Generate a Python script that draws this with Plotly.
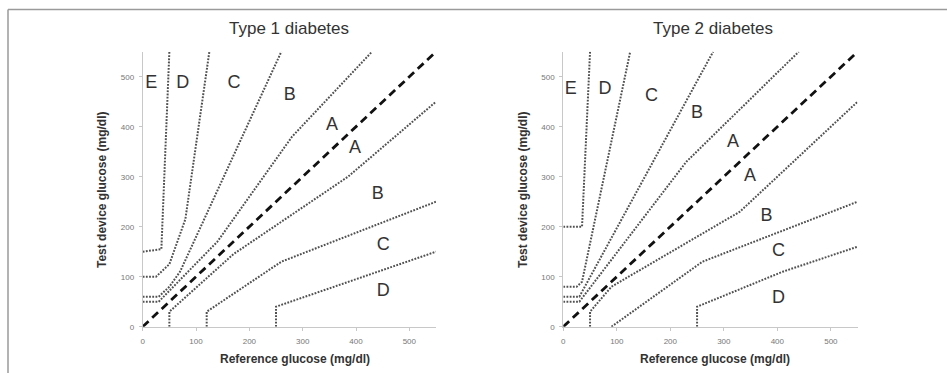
import plotly.graph_objects as go

W, H = 947, 373

# Parkes consensus error grid boundaries (reference glucose x, test device glucose y), mg/dl
type1_lines = {
    "A_upper": ([0, 30, 140, 280, 430], [50, 50, 170, 380, 550]),
    "A_lower": ([50, 50, 170, 385, 550], [0, 30, 145, 300, 450]),
    "B_upper": ([0, 30, 50, 70, 260], [60, 60, 80, 110, 550]),
    "B_lower": ([120, 120, 260, 550], [0, 30, 130, 250]),
    "C_upper": ([0, 25, 50, 80, 125], [100, 100, 125, 215, 550]),
    "C_lower": ([250, 250, 550], [0, 40, 150]),
    "D_upper": ([0, 35, 50], [150, 155, 550]),
}
type2_lines = {
    "A_upper": ([0, 30, 230, 440], [50, 50, 330, 550]),
    "A_lower": ([50, 50, 90, 330, 550], [0, 30, 80, 230, 450]),
    "B_upper": ([0, 30, 280], [60, 60, 550]),
    "B_lower": ([90, 260, 550], [0, 130, 250]),
    "C_upper": ([0, 25, 35, 125], [80, 80, 90, 550]),
    "C_lower": ([250, 250, 410, 550], [0, 40, 110, 160]),
    "D_upper": ([0, 35, 50], [200, 200, 550]),
}
identity = ([0, 550], [0, 550])

zone_text = ["E", "D", "C", "B", "A", "A", "B", "C", "D"]
type1_label_x = [16, 75, 171, 276, 355, 398, 441, 451, 451]
type1_label_y = [487, 487, 487, 462, 403, 357, 265, 163, 70]
type2_label_x = [14, 78, 165, 250, 317, 349, 380, 402, 402]
type2_label_y = [475, 475, 461, 427, 368, 301, 220, 150, 57]

titles = ["Type 1 diabetes", "Type 2 diabetes"]
x_title = "Reference glucose (mg/dl)"
y_title = "Test device glucose (mg/dl)"
tick_vals = [0, 100, 200, 300, 400, 500]
axis_max = 550

# plot-area geometry in pixels
panels = [
    dict(x0=142.7, x1=436.0, xa="x", ya="y"),
    dict(x0=563.3, x1=857.6, xa="x2", ya="y2"),
]
y_bottom_px, y_top_px = 326.7, 51.7


def px_x(p):
    return p / W


def px_y(p):
    return (H - p) / H


fig = go.Figure()
font_family = "Liberation Sans, Arial, sans-serif"

for panel, lines, lx, ly in [
    (panels[0], type1_lines, type1_label_x, type1_label_y),
    (panels[1], type2_lines, type2_label_x, type2_label_y),
]:
    for name, (xs, ys) in lines.items():
        fig.add_trace(go.Scatter(
            x=xs, y=ys, mode="lines", name=name,
            line=dict(color="#505050", width=2.0, dash="1.8px,1.4px"),
            xaxis=panel["xa"], yaxis=panel["ya"], showlegend=False,
            hoverinfo="skip", cliponaxis=False,
        ))
    fig.add_trace(go.Scatter(
        x=identity[0], y=identity[1], mode="lines",
        line=dict(color="#111111", width=2.8, dash="8px,5px"),
        xaxis=panel["xa"], yaxis=panel["ya"], showlegend=False,
        hoverinfo="skip", cliponaxis=False,
    ))
    fig.add_trace(go.Scatter(
        x=lx, y=ly, mode="text", text=zone_text,
        textfont=dict(family=font_family, size=18, color="#333333"),
        xaxis=panel["xa"], yaxis=panel["ya"], showlegend=False,
        hoverinfo="skip",
    ))

axis_common = dict(
    range=[0, axis_max], showgrid=False, zeroline=False,
    showline=True, linecolor="#c8c8c8", linewidth=1,
    ticks="outside", ticklen=3, tickcolor="#c8c8c8",
    tickvals=tick_vals, tickfont=dict(family=font_family, size=8, color="#777777"),
    automargin=False, fixedrange=True,
)

layout_axes = {}
for i, panel in enumerate(panels):
    sfx = "" if i == 0 else str(i + 1)
    layout_axes["xaxis" + sfx] = dict(
        axis_common, domain=[px_x(panel["x0"]), px_x(panel["x1"])],
        anchor="y" + sfx, ticklabelstandoff=4,
    )
    layout_axes["yaxis" + sfx] = dict(
        axis_common, domain=[px_y(y_bottom_px), px_y(y_top_px)],
        anchor="x" + sfx, ticklabelstandoff=3,
    )

annotations = []
title_cx = [289, 713]
xt_cx = [295, 715]
yt_cx = [102, 523]
for i in range(2):
    annotations.append(dict(
        text=titles[i], x=px_x(title_cx[i]), y=px_y(28), xref="paper", yref="paper",
        showarrow=False, xanchor="center", yanchor="middle",
        font=dict(family=font_family, size=17, color="#333333"),
    ))
    annotations.append(dict(
        text="<b>" + x_title + "</b>", x=px_x(xt_cx[i]), y=px_y(359), xref="paper", yref="paper",
        showarrow=False, xanchor="center", yanchor="middle",
        font=dict(family=font_family, size=12, color="#333333"),
    ))
    annotations.append(dict(
        text="<b>" + y_title + "</b>", x=px_x(yt_cx[i]), y=px_y(190), xref="paper", yref="paper",
        showarrow=False, xanchor="center", yanchor="middle", textangle=-90,
        font=dict(family=font_family, size=12, color="#333333"),
    ))

# outer frame (top and left edges)
shapes = [
    dict(type="line", xref="paper", yref="paper",
         x0=px_x(8), x1=1.0, y0=px_y(9.5), y1=px_y(9.5),
         line=dict(color="#9a9a9a", width=1.5)),
    dict(type="line", xref="paper", yref="paper",
         x0=px_x(8), x1=px_x(8), y0=0.0, y1=px_y(9.5),
         line=dict(color="#9a9a9a", width=1.5)),
]

fig.update_layout(
    width=W, height=H,
    margin=dict(l=0, r=0, t=0, b=0),
    paper_bgcolor="white", plot_bgcolor="white",
    showlegend=False,
    annotations=annotations, shapes=shapes,
    **layout_axes,
)

fig.write_html("out.html", config={"displayModeBar": False})
